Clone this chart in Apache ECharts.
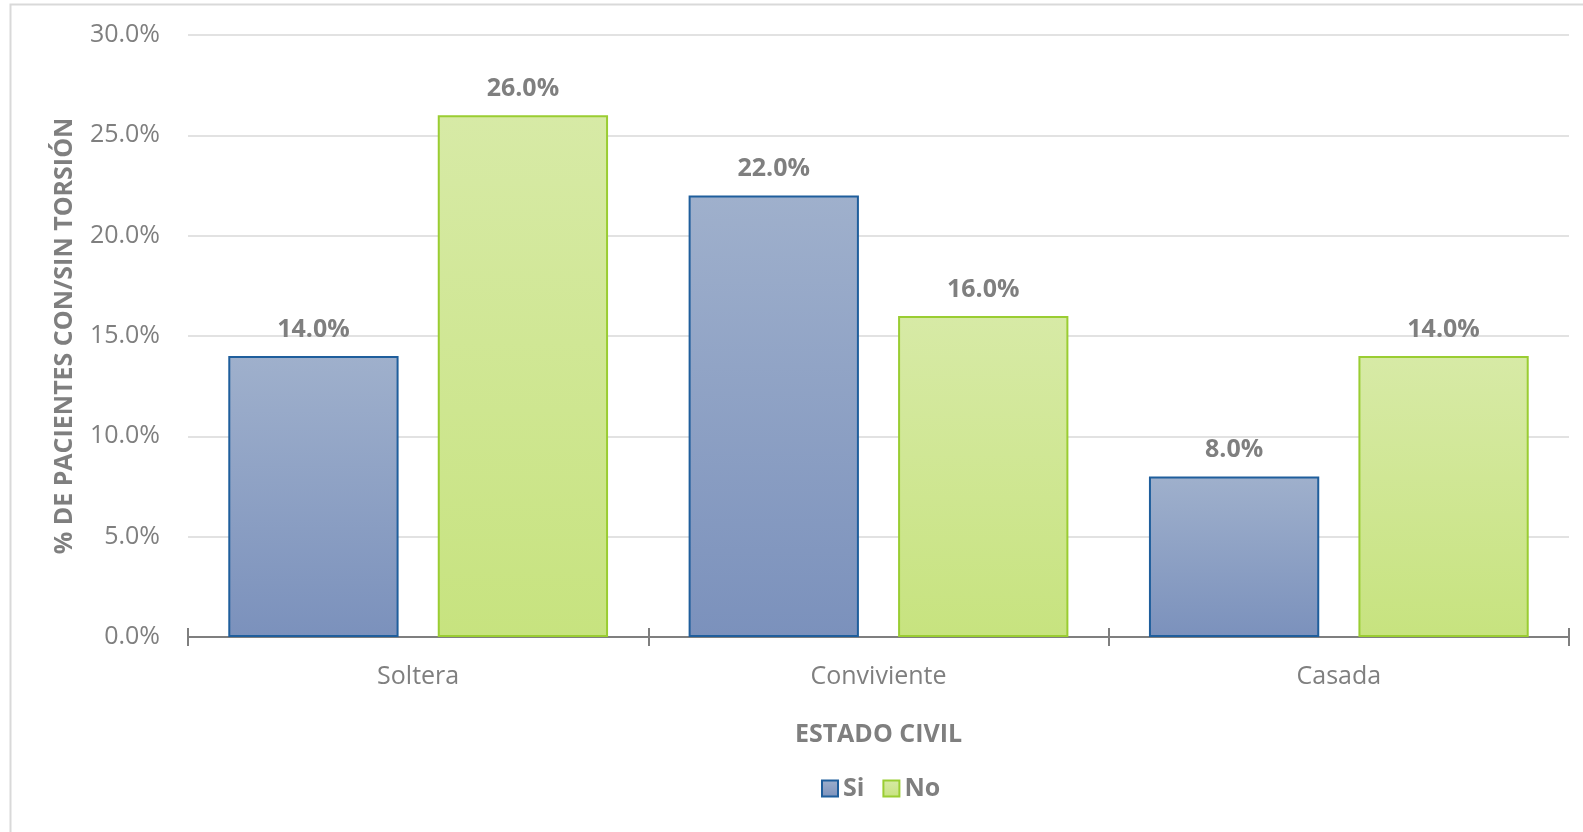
<!DOCTYPE html>
<html>
<head>
<meta charset="utf-8">
<title>Estado civil</title>
<script src="https://cdn.jsdelivr.net/npm/echarts@6/dist/echarts.min.js"></script>
<style>
  html, body { margin: 0; padding: 0; background: #ffffff; }
  #chart { width: 1583px; height: 832px; }
</style>
</head>
<body>
<div id="chart"></div>
<script>
// Categories and percentages per group
const categories = ['Soltera', 'Conviviente', 'Casada'];
const siValues = [14.0, 22.0, 8.0];
const noValues = [26.0, 16.0, 14.0];
const seriesNames = ['Si', 'No'];
const yAxisTitle = '% DE PACIENTES CON/SIN TORSIÓN';
const xAxisTitle = 'ESTADO CIVIL';

const FONT = '"Open Sans", "Noto Sans", sans-serif';
const GREY = '#7F7F7F';

const chart = echarts.init(document.getElementById('chart'), null, { renderer: 'canvas' });

const pctLabel = {
  show: true,
  position: 'top',
  distance: 14,
  color: GREY,
  fontFamily: FONT,
  fontWeight: 'bold',
  fontSize: 25,
  formatter: p => p.value.toFixed(1) + '%'
};

const option = {
  backgroundColor: '#ffffff',
  animation: false,
  graphic: [{
    type: 'rect',
    shape: { x: 10.5, y: 4.5, width: 1600, height: 860 },
    style: { fill: 'none', stroke: '#D9D9D9', lineWidth: 2 },
    silent: true,
    z: -10
  }],
  grid: { left: 188, right: 14, top: 35, bottom: 195 },
  legend: {
    data: seriesNames,
    top: 771,
    left: 816,
    itemWidth: 16,
    itemHeight: 16,
    itemGap: 18,
    icon: 'rect',
    textStyle: { color: GREY, fontFamily: FONT, fontWeight: 'bold', fontSize: 25 }
  },
  xAxis: [{
    type: 'category',
    data: categories,
    position: 'bottom',
    name: xAxisTitle,
    nameLocation: 'middle',
    nameGap: 85,
    nameTextStyle: { color: GREY, fontFamily: FONT, fontWeight: 'bold', fontSize: 25 },
    axisLine: { lineStyle: { color: GREY, width: 2 } },
    axisTick: { show: true, length: 9, lineStyle: { color: GREY, width: 2 } },
    axisLabel: { color: GREY, fontFamily: FONT, fontSize: 25, margin: 27 }
  }, {
    // inward half of the crossing tick marks
    type: 'category',
    data: categories,
    position: 'bottom',
    axisLine: { show: true, lineStyle: { color: GREY, width: 2 } },
    axisTick: { show: true, inside: true, length: 9, lineStyle: { color: GREY, width: 2 } },
    axisLabel: { show: false },
    splitLine: { show: false }
  }],
  yAxis: {
    type: 'value',
    min: 0,
    max: 30,
    interval: 5,
    name: yAxisTitle,
    nameLocation: 'middle',
    nameGap: 111,
    nameTextStyle: { color: GREY, fontFamily: FONT, fontWeight: 'bold', fontSize: 25 },
    axisLine: { show: false },
    axisTick: { show: false },
    axisLabel: {
      color: GREY, fontFamily: FONT, fontSize: 25, margin: 28,
      verticalAlign: 'middle',
      formatter: v => v.toFixed(1) + '%'
    },
    splitLine: { lineStyle: { color: '#D9D9D9', width: 1.5 } }
  },
  series: [{
    name: seriesNames[0],
    type: 'bar',
    data: siValues,
    barGap: '23%',
    barCategoryGap: '17.5%',
    itemStyle: {
      color: new echarts.graphic.LinearGradient(0, 0, 0, 1, [
        { offset: 0, color: '#9FB0CC' },
        { offset: 1, color: '#7B91BC' }
      ]),
      borderColor: '#1F5E9C',
      borderWidth: 2
    },
    label: pctLabel
  }, {
    name: seriesNames[1],
    type: 'bar',
    data: noValues,
    itemStyle: {
      color: new echarts.graphic.LinearGradient(0, 0, 0, 1, [
        { offset: 0, color: '#D7EAA6' },
        { offset: 1, color: '#C7E37F' }
      ]),
      borderColor: '#9ACD32',
      borderWidth: 2
    },
    label: pctLabel
  }]
};

chart.setOption(option);
</script>
</body>
</html>
